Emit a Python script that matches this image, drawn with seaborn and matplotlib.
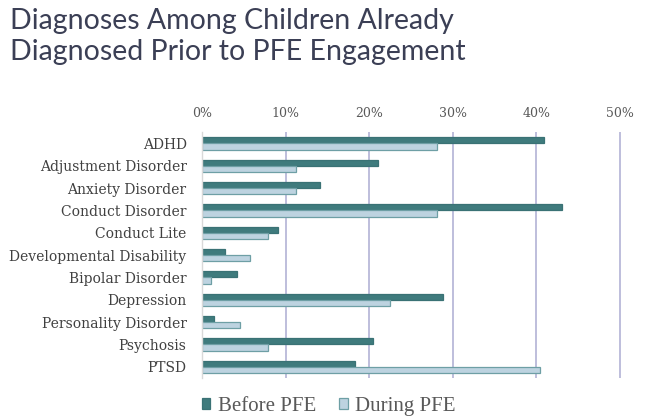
import matplotlib.pyplot as plt
import pandas as pd
import seaborn as sns

# Data (percent of children)
categories = ['ADHD', 'Adjustment Disorder', 'Anxiety Disorder', 'Conduct Disorder',
              'Conduct Lite', 'Developmental Disability', 'Bipolar Disorder',
              'Depression', 'Personality Disorder', 'Psychosis', 'PTSD']
before_pfe = [40.9, 21.1, 14.1, 43.0, 9.1, 2.8, 4.2, 28.8, 1.4, 20.4, 18.3]
during_pfe = [28.1, 11.2, 11.2, 28.1, 7.9, 5.7, 1.1, 22.5, 4.5, 7.9, 40.4]
series = ['Before PFE', 'During PFE']
x_ticks = [0, 10, 20, 30, 40, 50]
x_ticklabels = ['0%', '10%', '20%', '30%', '40%', '50%']

df = pd.DataFrame({
    'category': categories * 2,
    'value': before_pfe + during_pfe,
    'series': [series[0]] * len(categories) + [series[1]] * len(categories),
})

sns.set_style('white')
plt.rcParams['font.family'] = ['DejaVu Serif']

fig = plt.figure(figsize=(6.45, 4.17), dpi=100)
ax = fig.add_axes([0.313, 0.0935, 0.651, 0.5895])

palette = {'Before PFE': '#3F7B7D', 'During PFE': '#BDD3E0'}
sns.barplot(data=df, y='category', x='value', hue='series', order=categories,
            hue_order=series, palette=palette, orient='h', width=0.55,
            saturation=1, ax=ax, legend=True)

# edges: during bars get a teal outline
for bar in ax.patches:
    fc = bar.get_facecolor()
    if fc[0] > 0.5:
        bar.set_edgecolor('#6E9FA5')
    else:
        bar.set_edgecolor('#3A7275')
    bar.set_linewidth(0.9)

ax.set_xlim(0, 50.2)
ax.set_xticks(x_ticks)
ax.set_xticklabels(x_ticklabels)
ax.xaxis.tick_top()
ax.tick_params(axis='x', length=0, pad=9, labelsize=9, labelcolor='#595959')
ax.tick_params(axis='y', length=0, pad=11, labelsize=10, labelcolor='#404040')
ax.set_xlabel('')
ax.set_ylabel('')
ax.grid(axis='x', color='#B3B3D6', linewidth=1.2)
ax.set_axisbelow(True)
for side in ['top', 'right', 'bottom']:
    ax.spines[side].set_visible(False)
ax.spines['left'].set_color('#D9D9D9')
ax.spines['left'].set_linewidth(1.0)

handles, labels = ax.get_legend_handles_labels()
ax.legend(handles, labels, loc='upper left', bbox_to_anchor=(-0.045, 0.0),
          ncol=2, frameon=False, handlelength=0.42, handleheight=0.42,
          handletextpad=0.35, columnspacing=1.1, labelcolor='#595959',
          prop={'family': 'Liberation Serif', 'size': 15})

fig.text(0.015, 0.982, 'Diagnoses Among Children Already\nDiagnosed Prior to PFE Engagement',
         ha='left', va='top', fontsize=20.5, color='#3B3F55', family='Lato',
         linespacing=1.25)

fig.savefig('out.png', dpi=100)
